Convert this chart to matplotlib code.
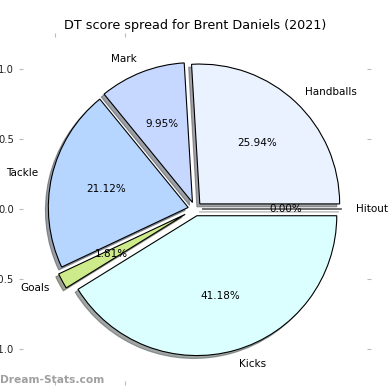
import matplotlib.pyplot as plt

labels = ['Handballs', 'Mark', 'Tackle', 'Goals', 'Kicks', 'Hitout']
scores = [25.94, 9.95, 21.12, 1.81, 41.18, 0.0]
colors = ['#eaf1ff', '#c6d8ff', '#b6d6ff', '#cdeb8b', '#dbffff', '#ffffff']
explode = [0.05, 0.05, 0.05, 0.08, 0.05, 0.05]

fig = plt.figure(figsize=(3.9, 3.9), dpi=100)
ax = fig.add_axes([23/390, 9/390, 344/390, 344/390])

ax.pie(scores, labels=labels, colors=colors, explode=explode, autopct='%1.2f%%',
       shadow={'ox': -0.015, 'oy': -0.015}, startangle=0, counterclock=True,
       wedgeprops={'edgecolor': 'black', 'linewidth': 0.8},
       textprops={'fontsize': 7.5})
ax.set_xlim(-1.23, 1.23)
ax.set_ylim(-1.23, 1.23)
ax.set_aspect('equal')
for s in ax.spines.values():
    s.set_visible(False)
ax.set_xticks([-1.0, -0.5])
ax.set_yticks([-1.0, -0.5, 0.0, 0.5, 1.0])
ax.tick_params(axis='both', which='both', colors='#bbbbbb', labelcolor='#222222',
               labelsize=7.2, length=3, pad=3.5, top=True, right=True)
ax.set_title('DT score spread for Brent Daniels (2021)', fontsize=9.2)

fig.text(0.0, 10/390, 'Dream-Stats.com', color='#a0a0a0', fontsize=7.7,
         fontweight='bold', va='center', ha='left')

fig.savefig('out.png', dpi=100)
